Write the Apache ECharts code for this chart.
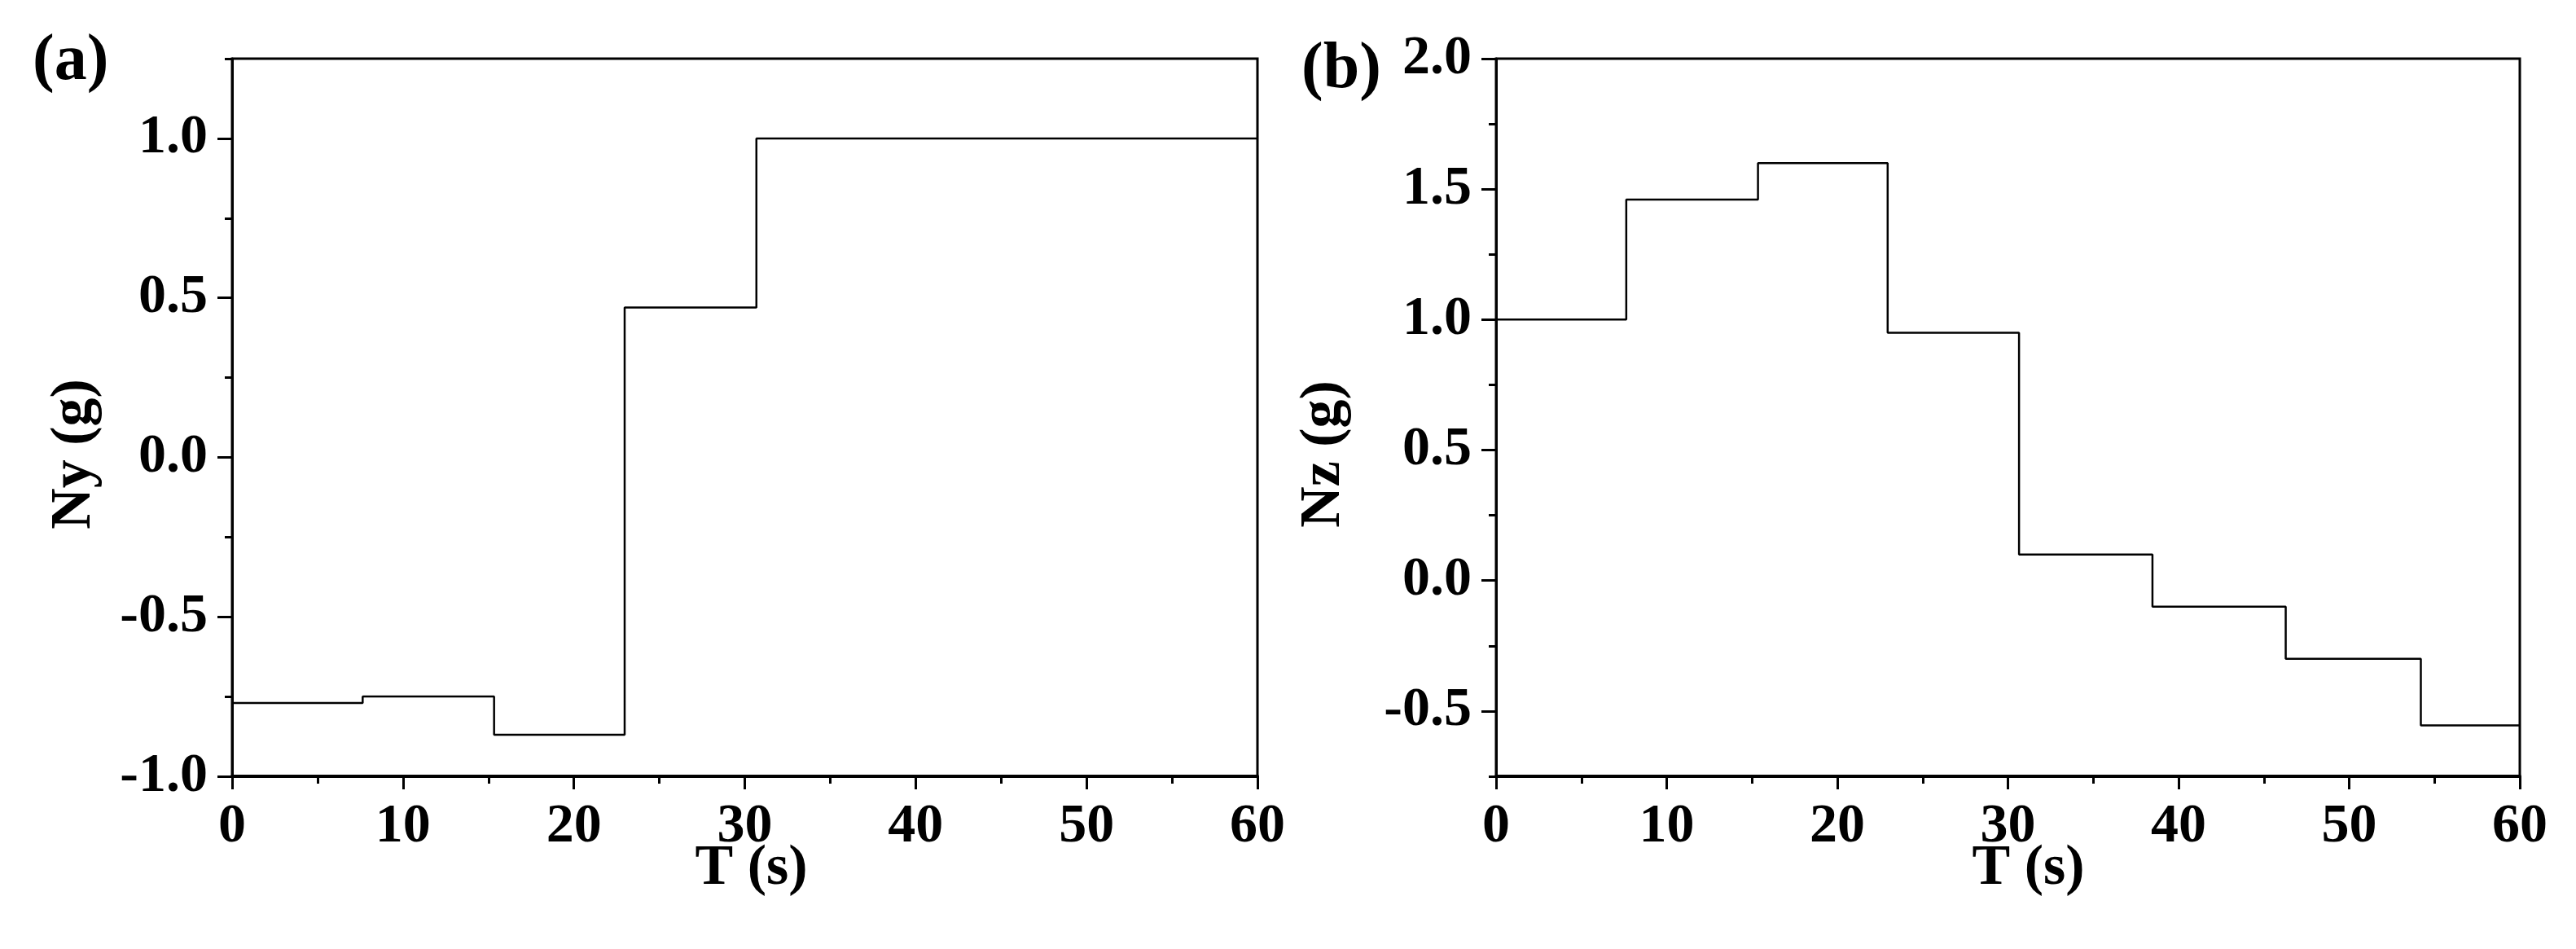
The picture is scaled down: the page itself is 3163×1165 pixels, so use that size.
<!DOCTYPE html>
<html>
<head>
<meta charset="utf-8">
<script src="https://cdn.jsdelivr.net/npm/echarts@6.0.0/dist/echarts.min.js"></script>
<style>
  html, body { margin: 0; padding: 0; background: #fff; }
  #chart { width: 3163px; height: 1165px; }
</style>
</head>
<body>
<div id="chart"></div>
<script>
// (a) lateral overload Ny, value holds until the next time point
const timeA = [0, 7.64, 15.33, 22.97, 30.68, 60];
const nyValues = [-0.77, -0.75, -0.87, 0.47, 1.0, 1.0];
// (b) normal overload Nz
const timeB = [0, 7.63, 15.35, 22.95, 30.65, 38.47, 46.28, 54.2, 60];
const nzValues = [1.0, 1.46, 1.6, 0.95, 0.1, -0.1, -0.3, -0.555, -0.555];
// labelled ticks
const nyMajorTicks = [-1.0, -0.5, 0.0, 0.5, 1.0];
const nzMajorTicks = [-0.5, 0.0, 0.5, 1.0, 1.5, 2.0];

const font = "Liberation Serif";
const black = "#000";
const gridA = { left: 285, top: 72, width: 1259, height: 881 };
const gridB = { left: 1837, top: 72, width: 1257, height: 881 };

const textStyle = (size) => ({
  fontFamily: font,
  fontWeight: "bold",
  fontSize: size,
  color: black
});

function timeAxis(gridIndex, namePad) {
  return {
    gridIndex: gridIndex,
    type: "value",
    min: 0,
    max: 60,
    interval: 10,
    name: "T (s)",
    nameLocation: "middle",
    nameGap: 79,
    nameMoveOverlap: false, // the name overlaps the "30" label in the original
    nameTextStyle: Object.assign(textStyle(70), { padding: namePad }),
    axisLine: { onZero: false, lineStyle: { color: black, width: 4 } },
    axisTick: { length: 16, lineStyle: { color: black, width: 3 } },
    minorTick: { show: true, splitNumber: 2, length: 9, lineStyle: { color: black, width: 3 } },
    axisLabel: Object.assign(textStyle(68), { margin: 28 }),
    splitLine: { show: false }
  };
}

function valueAxis(gridIndex, name, min, max, majors, nameGap) {
  return {
    gridIndex: gridIndex,
    type: "value",
    min: min,
    max: max,
    interval: 0.25,
    name: name,
    nameLocation: "middle",
    nameGap: nameGap,
    nameTextStyle: Object.assign(textStyle(70), { padding: [0, 90, 0, 0] }),
    axisLine: { onZero: false, lineStyle: { color: black, width: 3 } },
    axisTick: { length: 9, lineStyle: { color: black, width: 3 } },
    axisLabel: Object.assign(textStyle(68), {
      margin: 30,
      formatter: (v) => (majors.some((t) => Math.abs(t - v) < 1e-6) ? v.toFixed(1) : "")
    }),
    splitLine: { show: false }
  };
}

// longer ticks at the labelled values, drawn on an overlay grid
function majorTickAxis(gridIndex, min, max, majors) {
  return {
    gridIndex: gridIndex,
    type: "value",
    min: min,
    max: max,
    axisLine: { show: false, onZero: false },
    axisTick: { show: true, length: 18, customValues: majors, lineStyle: { color: black, width: 3 } },
    axisLabel: { show: false },
    splitLine: { show: false }
  };
}

const chart = echarts.init(document.getElementById("chart"));
chart.setOption({
  animation: false,
  backgroundColor: "#fff",
  grid: [
    Object.assign({ show: true, borderColor: black, borderWidth: 3 }, gridA),
    Object.assign({ show: true, borderColor: black, borderWidth: 3 }, gridB),
    Object.assign({}, gridA),
    Object.assign({}, gridB)
  ],
  xAxis: [
    timeAxis(0, [0, 0, 0, 16]),
    timeAxis(1, [0, 0, 0, 50]),
    { gridIndex: 2, type: "value", min: 0, max: 60, show: false },
    { gridIndex: 3, type: "value", min: 0, max: 60, show: false }
  ],
  yAxis: [
    valueAxis(0, "Ny (g)", -1, 1.25, nyMajorTicks, 158),
    valueAxis(1, "Nz (g)", -0.75, 2.0, nzMajorTicks, 176),
    majorTickAxis(2, -1, 1.25, nyMajorTicks),
    majorTickAxis(3, -0.75, 2.0, nzMajorTicks)
  ],
  graphic: [
    { type: "text", left: 40, top: 36, style: { text: "(a)", font: "bold 80px 'Liberation Serif'", fill: black } },
    { type: "text", left: 1598, top: 46, style: { text: "(b)", font: "bold 80px 'Liberation Serif'", fill: black } }
  ],
  series: [
    {
      type: "line",
      xAxisIndex: 0,
      yAxisIndex: 0,
      step: "end",
      symbol: "none",
      silent: true,
      lineStyle: { color: black, width: 2.5 },
      data: timeA.map((t, i) => [t, nyValues[i]])
    },
    {
      type: "line",
      xAxisIndex: 1,
      yAxisIndex: 1,
      step: "end",
      symbol: "none",
      silent: true,
      lineStyle: { color: black, width: 2.5 },
      data: timeB.map((t, i) => [t, nzValues[i]])
    }
  ]
});
</script>
</body>
</html>
